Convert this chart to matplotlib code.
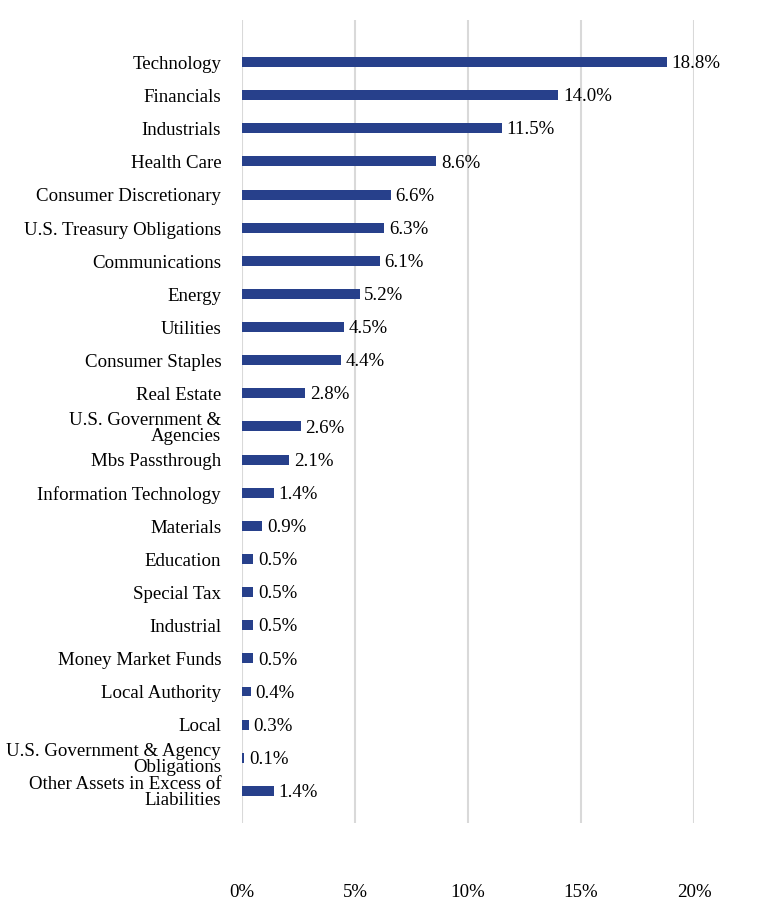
import matplotlib.pyplot as plt
import numpy as np

categories = ["Technology", "Financials", "Industrials", "Health Care",
              "Consumer Discretionary", "U.S. Treasury Obligations",
              "Communications", "Energy", "Utilities", "Consumer Staples",
              "Real Estate", "U.S. Government &\nAgencies", "Mbs Passthrough",
              "Information Technology", "Materials", "Education", "Special Tax",
              "Industrial", "Money Market Funds", "Local Authority", "Local",
              "U.S. Government & Agency\nObligations",
              "Other Assets in Excess of\nLiabilities"]
values = [18.8, 14.0, 11.5, 8.6, 6.6, 6.3, 6.1, 5.2, 4.5, 4.4, 2.8, 2.6, 2.1,
          1.4, 0.9, 0.5, 0.5, 0.5, 0.5, 0.4, 0.3, 0.1, 1.4]
xticks = [0, 5, 10, 15, 20]

plt.rcParams['font.family'] = ['Liberation Serif', 'DejaVu Serif']
fs = 13.6

fig = plt.figure(figsize=(7.68, 9.24), dpi=100)
ax = fig.add_axes([242/768, 1-823/924, (694-242)/768, (823-20)/924])

y = np.arange(len(categories))
ax.barh(y, values, height=0.3, color='#27408B', zorder=3)
for yi, v in zip(y, values):
    ax.text(v + 0.2, yi + 0.05, f"{v:.1f}%", va='center', ha='left', fontsize=fs)

ax.set_ylim(len(categories) - 1 + 0.97, -1.27)
ax.set_xlim(0, 20)
ax.set_xticks(xticks)
ax.set_xticklabels([f"{t}%" for t in xticks], fontsize=fs)
ax.set_yticks(y + 0.01)
ax.set_yticklabels(categories, fontsize=fs)
for lab in ax.get_yticklabels():
    lab.set_linespacing(0.9)

ax.xaxis.grid(True, color='#D9D9D9', linewidth=1.5, zorder=0)
ax.tick_params(axis='x', length=0, pad=44)
ax.tick_params(axis='y', length=0, pad=15)
for s in ax.spines.values():
    s.set_visible(False)

fig.savefig("out.png", dpi=100)
